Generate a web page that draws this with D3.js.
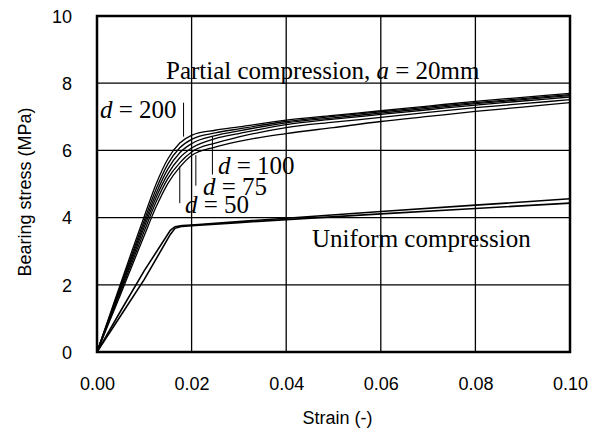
<!DOCTYPE html>
<html><head><meta charset="utf-8">
<script src="https://cdn.jsdelivr.net/npm/d3@7"></script>
<style>
html,body{margin:0;padding:0;background:#fff;}
svg{display:block;}
</style></head>
<body>
<svg id="chart" width="595" height="430"></svg>
<script>
// ---- data ----
const xTicks = [0, 0.02, 0.04, 0.06, 0.08, 0.10];
const xTickLabels = ["0.00","0.02","0.04","0.06","0.08","0.10"];
const yTicks = [0, 2, 4, 6, 8, 10];
const yTickLabels = ["0","2","4","6","8","10"];

// partial compression (a = 20mm), curves from d = 200 (top) to d = 50 (bottom)
const partialStrain = [0, 0.0025, 0.005, 0.0075, 0.01, 0.0125, 0.015, 0.0175, 0.02, 0.025, 0.03, 0.04, 0.05, 0.06, 0.07, 0.08, 0.09, 0.10];
const partialD200 = [0, 1.02, 2.04, 3.05, 4.04, 5.00, 5.75, 6.22, 6.45, 6.60, 6.70, 6.90, 7.04, 7.18, 7.32, 7.46, 7.58, 7.70];
const partialD150 = [0, 0.99, 1.98, 2.95, 3.92, 4.85, 5.60, 6.08, 6.33, 6.52, 6.64, 6.86, 7.01, 7.15, 7.29, 7.42, 7.54, 7.66];
const partialD125 = [0, 0.96, 1.92, 2.87, 3.82, 4.72, 5.45, 5.93, 6.20, 6.44, 6.58, 6.82, 6.97, 7.11, 7.25, 7.39, 7.51, 7.63];
const partialD100 = [0, 0.93, 1.86, 2.79, 3.72, 4.60, 5.30, 5.78, 6.07, 6.35, 6.50, 6.77, 6.93, 7.07, 7.21, 7.35, 7.47, 7.59];
const partialD75  = [0, 0.90, 1.80, 2.70, 3.60, 4.47, 5.17, 5.63, 5.95, 6.22, 6.40, 6.68, 6.84, 6.98, 7.13, 7.27, 7.39, 7.51];
const partialD50  = [0, 0.86, 1.72, 2.60, 3.47, 4.32, 5.02, 5.50, 5.85, 6.10, 6.27, 6.50, 6.68, 6.86, 7.01, 7.16, 7.29, 7.42];

// uniform compression
const uniformStrain = [0, 0.005, 0.01, 0.0155, 0.0165, 0.018, 0.02, 0.03, 0.04, 0.06, 0.08, 0.10];
const uniformA = [0, 1.22, 2.42, 3.62, 3.73, 3.76, 3.78, 3.88, 3.98, 4.18, 4.37, 4.56];
const uniformB = [0, 1.08, 2.16, 3.50, 3.68, 3.74, 3.76, 3.85, 3.94, 4.11, 4.27, 4.43];

// labels with pointer lines (strain of pointer, stress range of pointer)
const dLabels = ["200", "100", "75", "50"];
const pointerStrain = [0.0183, 0.0244, 0.0209, 0.0175];
const pointerTop = [7.42, 6.41, 5.86, 5.52];
const pointerBottom = [6.41, 5.28, 4.95, 4.43];

// ---- drawing ----
const svg = d3.select("#chart");
const L = 97, R = 570, T = 16, B = 352;
const x = d3.scaleLinear().domain([0, 0.10]).range([L, R]);
const y = d3.scaleLinear().domain([0, 10]).range([B, T]);

// grid
const g = svg.append("g");
g.selectAll(".vg").data(xTicks.slice(1, -1)).enter().append("line")
  .attr("x1", d => x(d)).attr("x2", d => x(d)).attr("y1", T).attr("y2", B)
  .attr("stroke", "#000").attr("stroke-width", 1.3);
g.selectAll(".hg").data(yTicks.slice(1, -1)).enter().append("line")
  .attr("x1", L).attr("x2", R).attr("y1", d => y(d)).attr("y2", d => y(d))
  .attr("stroke", "#000").attr("stroke-width", 1.3);

// axes (labels only)
const xAxis = d3.axisBottom(x).tickValues(xTicks).tickSize(0).tickPadding(0)
  .tickFormat((d, i) => xTickLabels[i]);
const gx = svg.append("g").attr("transform", `translate(0,${B})`).call(xAxis);
gx.select(".domain").remove();
gx.selectAll("text").attr("dy", null).attr("y", 38)
  .attr("font-family", "'Liberation Sans', Arial, sans-serif").attr("font-size", 18).attr("fill", "#000");

const yAxis = d3.axisLeft(y).tickValues(yTicks).tickSize(0).tickPadding(0)
  .tickFormat((d, i) => yTickLabels[i]);
const gy = svg.append("g").attr("transform", `translate(${L},0)`).call(yAxis);
gy.select(".domain").remove();
gy.selectAll("text").attr("x", -25).attr("dy", "0.35em")
  .attr("font-family", "'Liberation Sans', Arial, sans-serif").attr("font-size", 18).attr("fill", "#000");

// axis titles
svg.append("text").attr("x", (L + R) / 2 + 4).attr("y", 424)
  .attr("text-anchor", "middle")
  .attr("font-family", "'Liberation Sans', Arial, sans-serif").attr("font-size", 18)
  .text("Strain (-)");
svg.append("text").attr("transform", `translate(31,${(T + B) / 2 + 8}) rotate(-90)`)
  .attr("text-anchor", "middle")
  .attr("font-family", "'Liberation Sans', Arial, sans-serif").attr("font-size", 18)
  .text("Bearing stress (MPa)");

// curves
const line = d3.line().x(d => x(d[0])).y(d => y(d[1])).curve(d3.curveMonotoneX);
const partialSeries = [partialD200, partialD150, partialD125, partialD100, partialD75, partialD50];
const clip = svg.append("clipPath").attr("id", "clip").append("rect")
  .attr("x", L).attr("y", T).attr("width", R - L).attr("height", B - T);
const cg = svg.append("g").attr("clip-path", "url(#clip)");
partialSeries.forEach(s => {
  cg.append("path").datum(partialStrain.map((e, i) => [e, s[i]]))
    .attr("d", line).attr("fill", "none").attr("stroke", "#000").attr("stroke-width", 1.3);
});
[uniformA, uniformB].forEach(s => {
  cg.append("path").datum(uniformStrain.map((e, i) => [e, s[i]]))
    .attr("d", d3.line().x(d => x(d[0])).y(d => y(d[1])))
    .attr("fill", "none").attr("stroke", "#000").attr("stroke-width", 1.6);
});

// pointers
dLabels.forEach((lab, i) => {
  svg.append("line")
    .attr("x1", x(pointerStrain[i])).attr("x2", x(pointerStrain[i]))
    .attr("y1", y(pointerTop[i])).attr("y2", y(pointerBottom[i]))
    .attr("stroke", "#000").attr("stroke-width", 1);
});

// annotations (serif)
const serif = "'Liberation Serif', 'Times New Roman', serif";
const labelPos = [[100, 118], [218, 174], [203, 195], [185, 213]];
dLabels.forEach((lab, i) => {
  const t = svg.append("text").attr("x", labelPos[i][0]).attr("y", labelPos[i][1])
    .attr("font-family", serif).attr("font-size", 25).attr("fill", "#000");
  t.append("tspan").attr("font-style", "italic").text("d");
  t.append("tspan").text(" = " + lab);
});

const pt = svg.append("text").attr("x", 166).attr("y", 79)
  .attr("font-family", serif).attr("font-size", 25);
pt.append("tspan").text("Partial compression, ");
pt.append("tspan").attr("font-style", "italic").text("a");
pt.append("tspan").text(" = 20mm");

svg.append("text").attr("x", 312).attr("y", 247)
  .attr("font-family", serif).attr("font-size", 25)
  .text("Uniform compression");

// frame
svg.append("rect").attr("x", L).attr("y", T).attr("width", R - L).attr("height", B - T)
  .attr("fill", "none").attr("stroke", "#000").attr("stroke-width", 2.5);
</script>
</body></html>
